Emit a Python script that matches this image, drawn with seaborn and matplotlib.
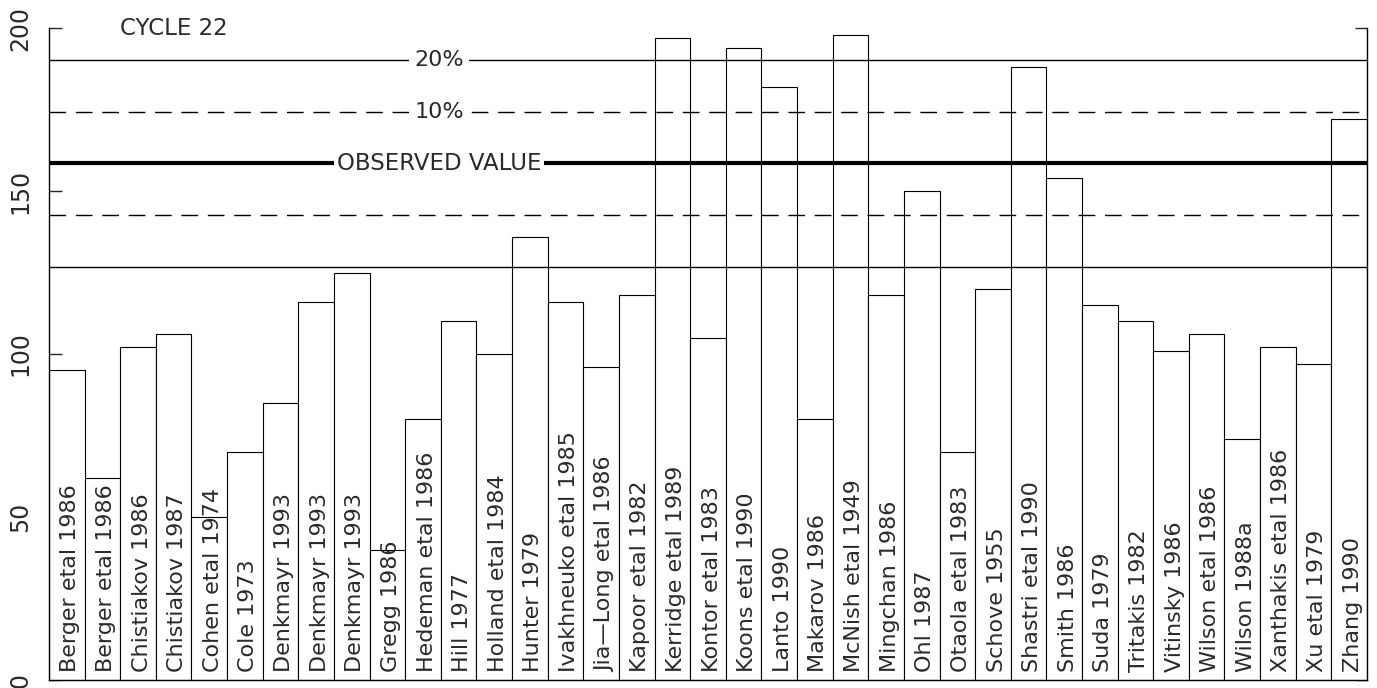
import numpy as np
import pandas as pd
import seaborn as sns
from matplotlib import pyplot as plt

# %% data
Authors = ['Berger etal 1986', 'Berger etal 1986', 'Chistiakov 1986', 'Chistiakov 1987',
           'Cohen etal 1974', 'Cole 1973', 'Denkmayr 1993', 'Denkmayr 1993', 'Denkmayr 1993',
           'Gregg 1986', 'Hedeman etal 1986', 'Hill 1977', 'Holland etal 1984', 'Hunter 1979',
           'Ivakhneuko etal 1985', 'Jia\u2014Long etal 1986', 'Kapoor etal 1982', 'Kerridge etal 1989',
           'Kontor etal 1983', 'Koons etal 1990', 'Lanto 1990', 'Makarov 1986', 'McNish etal 1949',
           'Mingchan 1986', 'Ohl 1987', 'Otaola etal 1983', 'Schove 1955', 'Shastri etal 1990',
           'Smith 1986', 'Suda 1979', 'Tritakis 1982', 'Vitinsky 1986', 'Wilson etal 1986',
           'Wilson 1988a', 'Xanthakis etal 1986', 'Xu etal 1979', 'Zhang 1990']
Predicted = [95, 62, 102, 106, 50, 70, 85, 116, 125, 40, 80, 110, 100, 136, 116, 96, 118, 197,
             105, 194, 182, 80, 198, 118, 150, 70, 120, 188, 154, 115, 110, 101, 106, 74, 102, 97, 172]
Observed = 158.5
Bands = [('20%', 0.20, '-'), ('10%', 0.10, (0, (12, 7)))]
yTicks = [0, 50, 100, 150, 200]

dfData = pd.DataFrame({'Pos': np.arange(len(Authors)),
                       'Author': Authors,
                       'Value': Predicted})

# %% plot
sns.set_style('white')
plt.rcParams['font.family'] = ['DejaVu Sans']

fig = plt.figure(figsize=(13.77, 6.88), dpi=100)
ax = fig.add_axes([0.0356, 0.0116, 0.9571, 0.9477])

sns.barplot(data=dfData, x='Pos', y='Value', ax=ax, width=1.0,
            color='white', edgecolor='black', linewidth=0.8, errorbar=None)

# labels inside bars
for i, r in dfData.iterrows():
    ax.text(r.Pos + 0.1, 2.5, r.Author, rotation=90, ha='center', va='bottom',
            fontsize=16, color='#2a2a2a')

xLab = 10.45
for lab, frac, ls in Bands:
    for sgn in (1, -1):
        ax.axhline(Observed * (1 + sgn * frac), color='black', linestyle=ls, linewidth=1.0, zorder=3)
    ax.text(xLab, Observed * (1 + frac), lab, ha='center', va='center', fontsize=16,
            color='#2a2a2a', zorder=4,
            bbox=dict(facecolor='white', edgecolor='none', pad=4))

ax.axhline(Observed, color='black', linewidth=3.0, zorder=3)
ax.text(xLab, Observed, 'OBSERVED VALUE', ha='center', va='center', fontsize=16.5,
        color='#2a2a2a', zorder=4,
        bbox=dict(facecolor='white', edgecolor='none', pad=2))

ax.text(1.5, 200, 'CYCLE 22', ha='left', va='center', fontsize=16.5, color='#2a2a2a')

ax.set_xlim(-0.5, len(Authors) - 0.5)
ax.set_ylim(0, 200)
ax.set_yticks(yTicks)
ax.set_yticklabels([str(v) for v in yTicks], rotation=90, va='center', fontsize=17, color='#2a2a2a')
ax.set_xticks([])
ax.set_xlabel('')
ax.set_ylabel('')
ax.tick_params(axis='y', direction='in', left=True, right=True, length=9, width=1, pad=12)
ax.spines['top'].set_visible(False)
for s in ('left', 'right', 'bottom'):
    ax.spines[s].set_linewidth(1.0)
    ax.spines[s].set_color('black')

fig.savefig('out.png', dpi=100)
